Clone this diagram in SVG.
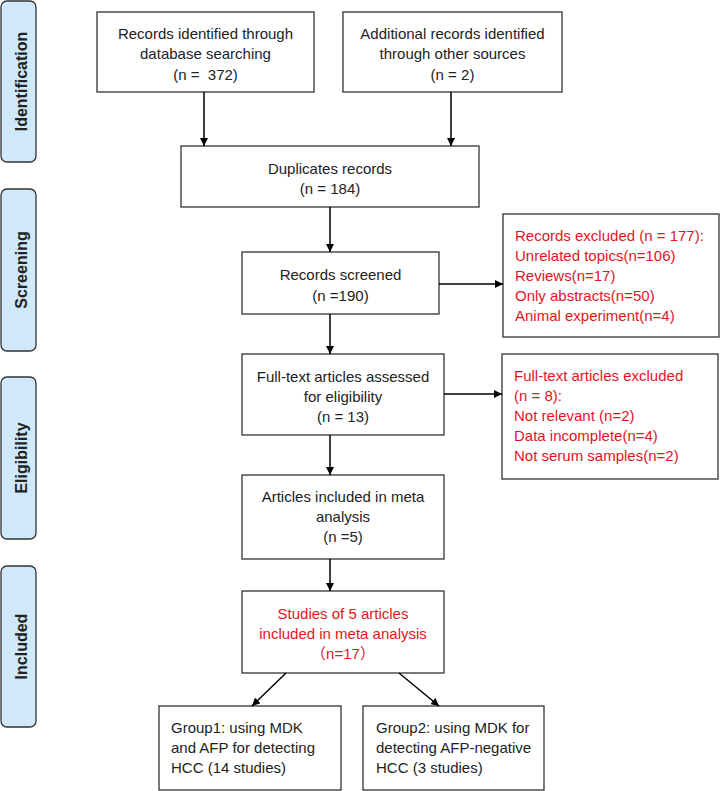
<svg xmlns="http://www.w3.org/2000/svg" width="720" height="791" viewBox="0 0 720 791">
<style>
.box{fill:#fff;stroke:#333;stroke-width:1.3}
.side{fill:#cfe9fb;stroke:#333;stroke-width:1.3}
.t{font-family:"Liberation Sans",Arial,sans-serif;font-size:15px;fill:#222}
.c{text-anchor:middle}
.r{fill:#e4141e}
.s{font-family:"Liberation Sans",Arial,sans-serif;font-size:16px;font-weight:bold;fill:#222;text-anchor:middle}
.ln{stroke:#000;stroke-width:1.5;fill:none;marker-end:url(#ah)}
</style>
<defs>
<marker id="ah" viewBox="0 0 10 10" refX="10" refY="5" markerWidth="8" markerHeight="8" markerUnits="userSpaceOnUse" orient="auto">
<path d="M0,0 L10,5 L0,10 z" fill="#000"/>
</marker>
</defs>
<g id="side-identification"><rect class="side" x="1" y="1" width="35" height="161" rx="6"/><text class="s" transform="translate(26.5,81.5) rotate(-90)">Identification</text></g>
<g id="side-screening"><rect class="side" x="1" y="189" width="35" height="162" rx="6"/><text class="s" transform="translate(26.5,270) rotate(-90)">Screening</text></g>
<g id="side-eligibility"><rect class="side" x="1" y="377" width="35" height="162" rx="6"/><text class="s" transform="translate(26.5,458) rotate(-90)">Eligibility</text></g>
<g id="side-included"><rect class="side" x="1" y="566" width="35" height="161" rx="6"/><text class="s" transform="translate(26.5,646.5) rotate(-90)">Included</text></g>

<g id="n-database"><rect class="box" x="97" y="12" width="217" height="80"/>
<text class="t c" x="205.5" y="39">Records identified through</text>
<text class="t c" x="205.5" y="59">database searching</text>
<text class="t c" x="205.5" y="80" xml:space="preserve">(n =  372)</text></g>
<g id="n-other"><rect class="box" x="343" y="12" width="219" height="80"/>
<text class="t c" x="452.5" y="39">Additional records identified</text>
<text class="t c" x="452.5" y="59">through other sources</text>
<text class="t c" x="452.5" y="80">(n = 2)</text></g>
<g id="n-duplicates"><rect class="box" x="181" y="146" width="298" height="61"/>
<text class="t c" x="330" y="174">Duplicates records</text>
<text class="t c" x="330" y="194">(n = 184)</text></g>
<g id="n-screened"><rect class="box" x="242" y="252" width="197" height="62"/>
<text class="t c" x="340.5" y="280">Records screened</text>
<text class="t c" x="340.5" y="301">(n =190)</text></g>
<g id="n-excluded1"><rect class="box" x="503" y="214" width="216" height="123"/>
<text class="t r" x="515" y="241">Records excluded (n = 177):</text>
<text class="t r" x="515" y="261">Unrelated topics(n=106)</text>
<text class="t r" x="515" y="281">Reviews(n=17)</text>
<text class="t r" x="515" y="301">Only abstracts(n=50)</text>
<text class="t r" x="515" y="321">Animal experiment(n=4)</text></g>
<g id="n-fulltext"><rect class="box" x="242" y="354" width="202" height="81"/>
<text class="t c" x="343" y="382">Full-text articles assessed</text>
<text class="t c" x="343" y="402">for eligibility</text>
<text class="t c" x="343" y="422">(n = 13)</text></g>
<g id="n-excluded2"><rect class="box" x="502" y="354" width="216" height="125"/>
<text class="t r" x="514" y="381">Full-text articles excluded</text>
<text class="t r" x="514" y="401">(n = 8):</text>
<text class="t r" x="514" y="421">Not relevant (n=2)</text>
<text class="t r" x="514" y="441">Data incomplete(n=4)</text>
<text class="t r" x="514" y="461">Not serum samples(n=2)</text></g>
<g id="n-articles"><rect class="box" x="242" y="475" width="202" height="84"/>
<text class="t c" x="343" y="502">Articles included in meta</text>
<text class="t c" x="343" y="522">analysis</text>
<text class="t c" x="343" y="542">(n =5)</text></g>
<g id="n-studies"><rect class="box" x="242" y="591" width="202" height="82"/>
<text class="t c r" x="343" y="619">Studies of 5 articles</text>
<text class="t c r" x="343" y="639">included in meta analysis</text>
<text class="t c r" x="343" y="659" style="font-family:'Liberation Sans','Noto Sans CJK SC',sans-serif">（n=17）</text></g>
<g id="n-group1"><rect class="box" x="159" y="706" width="182" height="84"/>
<text class="t" x="171" y="733">Group1: using MDK</text>
<text class="t" x="171" y="753">and AFP for detecting</text>
<text class="t" x="171" y="773">HCC (14 studies)</text></g>
<g id="n-group2"><rect class="box" x="363" y="706" width="181" height="84"/>
<text class="t" x="376" y="733">Group2: using MDK for</text>
<text class="t" x="376" y="753">detecting AFP-negative</text>
<text class="t" x="376" y="773">HCC (3 studies)</text></g>

<g id="connectors">
<line class="ln" x1="204" y1="92" x2="204" y2="146"/>
<line class="ln" x1="451" y1="92" x2="451" y2="146"/>
<line class="ln" x1="330" y1="207" x2="330" y2="252"/>
<line class="ln" x1="330" y1="314" x2="330" y2="354"/>
<line class="ln" x1="439" y1="284" x2="503" y2="284"/>
<line class="ln" x1="444" y1="394" x2="502" y2="394"/>
<line class="ln" x1="330" y1="435" x2="330" y2="475"/>
<line class="ln" x1="330" y1="559" x2="330" y2="591"/>
<line class="ln" x1="286" y1="673" x2="252" y2="706"/>
<line class="ln" x1="399" y1="673" x2="439" y2="706"/>
</g>
</svg>
